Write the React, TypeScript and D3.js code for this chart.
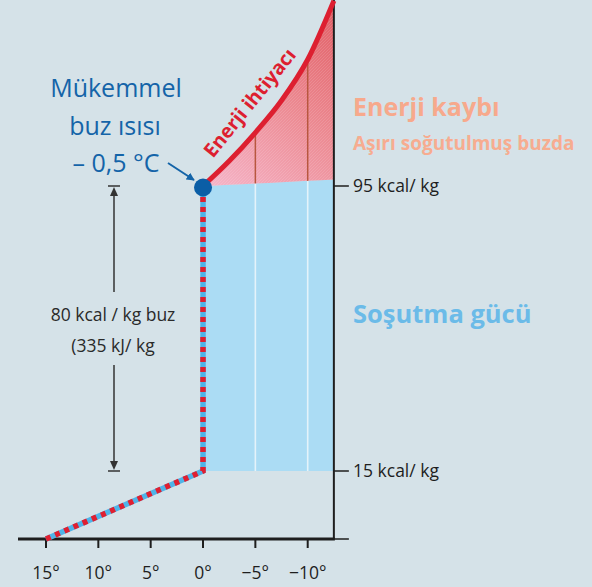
import * as d3 from "d3"

// temperatures along the bottom axis (°C)
const tickTemps = [15, 10, 5, 0, -5, -10]
// water cooling to 0 °C, then freezing at 0 °C (energy in kcal/kg)
const waterPath = [
  { t: 15, e: 0 },
  { t: 0, e: 15 },
  { t: 0, e: 95 },
]
// energy requirement when the ice is sub-cooled
const demandCurve = [
  { t: 0, e: 95 },
  { t: -2.5, e: 102 },
  { t: -5, e: 110 },
  { t: -7.5, e: 119 },
  { t: -10, e: 130.5 },
  { t: -12.5, e: 147 },
]
// top edge of the cooling power block
const coolingTop = [
  { t: 0, e: 95 },
  { t: -12.5, e: 96.8 },
]
const coolingBase = 15
const energyTicks = [
  { e: 0, label: "" },
  { e: 15, label: "15 kcal/ kg" },
  { e: 95, label: "95 kcal/ kg" },
]
const gridTemps = [-5, -10]

const W = 592
const H = 587
const FONT = "'Open Sans', 'Noto Sans', sans-serif"

type Pt = { t: number; e: number }

export default function App() {
  const x = d3.scaleLinear().domain([15, -10]).range([46, 307.7])
  const y = d3.scaleLinear().domain([0, 15, 95]).range([539, 471, 186])
  const tEnd = -12.5
  const xAxis = x(tEnd)

  const topAt = (t: number) => {
    const [a, b] = coolingTop
    return a.e + ((t - a.t) / (b.t - a.t)) * (b.e - a.e)
  }

  const demandD = d3
    .line<Pt>()
    .x((d) => x(d.t))
    .y((d) => y(d.e))
    .curve(d3.curveMonotoneX)(demandCurve)

  const lossArea = d3
    .area<Pt>()
    .x((d) => x(d.t))
    .y0((d) => y(topAt(d.t)))
    .y1((d) => y(d.e))
    .curve(d3.curveMonotoneX)(demandCurve)

  const coolArea = d3
    .area<Pt>()
    .x((d) => x(d.t))
    .y0(y(coolingBase))
    .y1((d) => y(d.e))(coolingTop)

  const waterD = d3
    .line<Pt>()
    .x((d) => x(d.t))
    .y((d) => y(d.e))(waterPath)

  const dimX = 114
  const dimTop = y(95)
  const dimBot = y(15)

  return (
    <div style={{ position: "absolute", left: 0, top: 0 }}>
      <svg width={W} height={H} style={{ display: "block", fontFamily: FONT }}>
        <defs>
          <linearGradient
            id="loss"
            gradientUnits="userSpaceOnUse"
            x1={x(0)}
            y1={y(95)}
            x2={xAxis}
            y2={20}
          >
            <stop offset="0%" stopColor="#f6b6ca" />
            <stop offset="55%" stopColor="#ec8a92" />
            <stop offset="100%" stopColor="#e2636a" />
          </linearGradient>
          <pattern id="hatch" width={3} height={3} patternUnits="userSpaceOnUse">
            <path d="M0,3 L3,0" stroke="#ffffff" strokeOpacity={0.12} strokeWidth={1} />
          </pattern>
          <marker
            id="arrowBlue"
            viewBox="0 0 10 10"
            refX={9}
            refY={5}
            markerWidth={4}
            markerHeight={4}
            orient="auto"
          >
            <path d="M0,0 L10,5 L0,10 z" fill="#1464a8" />
          </marker>
        </defs>

        <rect width={W} height={H} fill="#d5e2e8" />

        {/* cooling power block */}
        <path d={coolArea ?? undefined} fill="#abdcf4" />
        {/* energy loss block */}
        <path d={lossArea ?? undefined} fill="url(#loss)" />
        <path d={lossArea ?? undefined} fill="url(#hatch)" />

        {gridTemps.map((t) => {
          const d = demandCurve.find((p) => p.t === t)!
          return (
            <g key={t}>
              <line
                x1={x(t)}
                x2={x(t)}
                y1={y(coolingBase)}
                y2={y(topAt(t))}
                stroke="#e4f3fa"
                strokeWidth={1.6}
              />
              <line
                x1={x(t)}
                x2={x(t)}
                y1={y(topAt(t))}
                y2={y(d.e)}
                stroke="#b8573f"
                strokeWidth={1.5}
              />
            </g>
          )
        })}

        {/* axes */}
        <line x1={xAxis} x2={xAxis} y1={0} y2={y(0)} stroke="#1e1e1e" strokeWidth={2} />
        <line x1={18} x2={xAxis + 1} y1={y(0)} y2={y(0)} stroke="#1e1e1e" strokeWidth={3} />
        {energyTicks.map((k) => (
          <g key={k.e}>
            <line
              x1={xAxis}
              x2={xAxis + 15}
              y1={y(k.e)}
              y2={y(k.e)}
              stroke="#1e1e1e"
              strokeWidth={1.5}
            />
            <text x={353} y={y(k.e) + 6} fontSize={17.5} fill="#1e1e1e">
              {k.label}
            </text>
          </g>
        ))}
        {tickTemps.map((t) => (
          <g key={t}>
            <line x1={x(t)} x2={x(t)} y1={y(0)} y2={y(0) + 9} stroke="#1e1e1e" strokeWidth={2} />
            <text x={x(t)} y={579} fontSize={17.5} textAnchor="middle" fill="#1e1e1e">
              {t < 0 ? `−${-t}°` : `${t}°`}
            </text>
          </g>
        ))}

        {/* water -> ice path */}
        <path d={waterD ?? undefined} fill="none" stroke="#4fb4e8" strokeWidth={5.5} />
        <path
          d={waterD ?? undefined}
          fill="none"
          stroke="#e01f30"
          strokeWidth={5.5}
          strokeDasharray="5 5"
        />

        {/* energy requirement curve */}
        <path d={demandD ?? undefined} fill="none" stroke="#dd1f30" strokeWidth={5} />
        <circle cx={x(0)} cy={y(95) + 1.5} r={9} fill="#0b5ea6" />

        <text
          transform="translate(255,107) rotate(-51)"
          textAnchor="middle"
          fontSize={19.5}
          fontWeight={700}
          fill="#dd1f30"
        >
          Enerji ihtiyacı
        </text>

        {/* ideal ice temperature */}
        <g fill="#1464a8" fontSize={25} textAnchor="middle">
          <text x={116} y={97}>Mükemmel</text>
          <text x={115} y={135}>buz ısısı</text>
          <text x={116} y={172}>– 0,5 °C</text>
        </g>
        <line
          x1={168}
          y1={163}
          x2={194}
          y2={180}
          stroke="#1464a8"
          strokeWidth={2}
          markerEnd="url(#arrowBlue)"
        />

        {/* 80 kcal dimension */}
        <g stroke="#333" strokeWidth={1.5}>
          <line x1={dimX - 6} x2={dimX + 6} y1={dimTop} y2={dimTop} />
          <line x1={dimX} x2={dimX} y1={dimTop + 4} y2={292} />
          <line x1={dimX} x2={dimX} y1={365} y2={dimBot - 4} />
          <line x1={dimX - 6} x2={dimX + 6} y1={dimBot} y2={dimBot} />
        </g>
        <path
          d={`M${dimX},${dimTop + 1} L${dimX - 4},${dimTop + 10} L${dimX + 4},${dimTop + 10} Z`}
          fill="#333"
        />
        <path
          d={`M${dimX},${dimBot - 1} L${dimX - 4},${dimBot - 10} L${dimX + 4},${dimBot - 10} Z`}
          fill="#333"
        />
        <g fontSize={17.5} fill="#2a2a2a" textAnchor="middle">
          <text x={113} y={321}>80 kcal / kg buz</text>
          <text x={113} y={352}>(335 kJ/ kg</text>
        </g>

        {/* right-hand labels */}
        <text x={353} y={116} fontSize={25} fontWeight={700} fill="#f7a98c">
          Enerji kaybı
        </text>
        <text x={353} y={150} fontSize={19} fontWeight={700} fill="#f7ac90">
          Aşırı soğutulmuş buzda
        </text>
        <text x={353} y={323} fontSize={25.5} fontWeight={700} fill="#6bbbe8">
          Soşutma gücü
        </text>
      </svg>
    </div>
  )
}
